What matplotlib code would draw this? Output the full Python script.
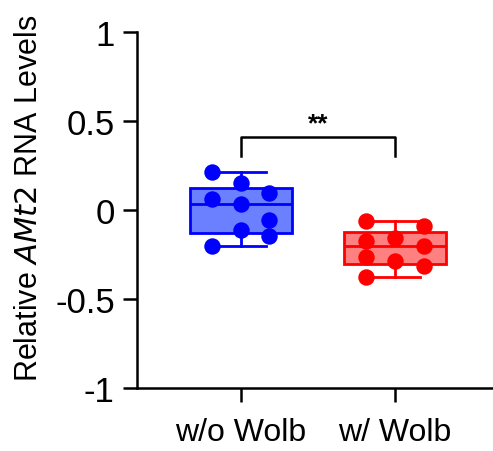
import numpy as np
import matplotlib.pyplot as plt

plt.rcParams['font.family'] = ['Liberation Sans', 'DejaVu Sans']

groups = ["w/o Wolb", "w/ Wolb"]
wo_wolb = [0.213, 0.152, 0.096, 0.062, 0.034, -0.056, -0.112, -0.146, -0.202]
w_wolb = [-0.062, -0.090, -0.157, -0.174, -0.202, -0.264, -0.287, -0.315, -0.376]
# column each point is drawn in (-1 left, 0 centre, 1 right)
wo_cols = [-1, 0, 1, -1, 0, 1, 0, 1, -1]
w_cols = [-1, 1, 0, -1, 1, -1, 0, 1, -1]

edge_colors = ["#0000ff", "#ff0000"]
fill_colors = ["#6b80ff", "#ff8080"]
yticks = [1, 0.5, 0, -0.5, -1]
ytick_labels = ["1", "0.5", "0", "-0.5", "-1"]
sig_label = "**"

fig = plt.figure(figsize=(4.93, 4.52), dpi=100)
ax = fig.add_axes([0.278, 0.139, 0.73, 0.788])

data = [wo_wolb, w_wolb]
cols = [wo_cols, w_cols]
for i, (vals, c) in enumerate(zip(data, cols)):
    pos = i + 1
    v = np.array(vals)
    q1, med, q3 = np.percentile(v, [25, 50, 75], method='weibull')
    stats = [dict(med=med, q1=q1, q3=q3, whislo=v.min(), whishi=v.max(), fliers=[])]
    ax.bxp(stats, positions=[pos], widths=0.66, patch_artist=True,
           boxprops=dict(facecolor=fill_colors[i], edgecolor=edge_colors[i], linewidth=2),
           medianprops=dict(color=edge_colors[i], linewidth=2),
           whiskerprops=dict(color=edge_colors[i], linewidth=2),
           capprops=dict(color=edge_colors[i], linewidth=2),
           capwidths=0.33, zorder=2)
    xs = pos + np.array(c) * 0.185
    ax.scatter(xs, v, s=140, color=edge_colors[i], zorder=3, linewidths=0)

# significance bracket
ax.plot([1, 1, 2, 2], [0.303, 0.41, 0.41, 0.303], color='black', lw=1.8)
ax.text(1.5, 0.42, sig_label, ha='center', va='bottom', fontsize=19, fontweight='bold')

ax.set_xlim(0.33, 2.66)
ax.set_ylim(-1, 1)
ax.set_xticks([1, 2])
ax.set_xticklabels(groups, fontsize=23)
ax.set_yticks(yticks)
ax.set_yticklabels(ytick_labels, fontsize=25)
ax.set_ylabel("Relative $\\it{AMt2}$ RNA Levels", fontsize=22)
ax.yaxis.set_label_coords(-0.258, 0.535)
ax.spines['top'].set_visible(False)
ax.spines['right'].set_visible(False)
for s in ['left', 'bottom']:
    ax.spines[s].set_linewidth(1.8)
ax.tick_params(axis='both', length=10, width=1.8)
ax.tick_params(axis='y', pad=6)
ax.tick_params(axis='x', pad=11)

fig.savefig("out.png", dpi=100)
